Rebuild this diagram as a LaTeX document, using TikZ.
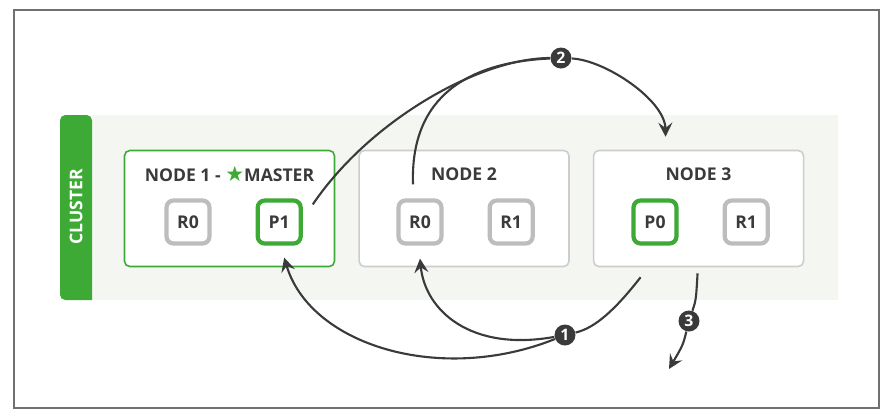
\documentclass[tikz,border=0pt]{standalone}
\usepackage{fontspec}
\setmainfont{Open Sans}
\newfontfamily\symfont{DejaVu Sans}
\usetikzlibrary{positioning,arrows.meta,calc}
\definecolor{clusterGreen}{HTML}{3DAA35}
\definecolor{bgGray}{HTML}{F4F6F2}
\definecolor{boxGray}{HTML}{CDCDCD}
\definecolor{shardGray}{HTML}{BDBDBD}
\definecolor{inkDark}{HTML}{3A3A3A}
\definecolor{frameGray}{HTML}{707070}
\tikzset{
    esnode/.style={draw=boxGray,fill=white,rounded corners=3pt,line width=0.9pt,
        minimum width=4.2cm,minimum height=2.32cm},
    masternode/.style={esnode,draw=clusterGreen},
    shard/.style={draw=shardGray,fill=white,rounded corners=4pt,line width=2.4pt,
        minimum size=0.86cm,inner sep=0pt,text=inkDark,
        font=\bfseries\fontsize{10}{12}\selectfont},
    primary/.style={shard,draw=clusterGreen},
    nodetitle/.style={inner sep=0pt,text=inkDark,font=\bfseries\fontsize{10}{12}\selectfont},
    badge/.style={circle,fill=inkDark,text=white,minimum size=0.42cm,inner sep=0pt,
        font=\bfseries\fontsize{9}{10}\selectfont},
    flow/.style={draw=inkDark,line width=1.2pt},
    flowarrow/.style={flow,-{Stealth[length=8pt,width=8pt,inset=3pt]}}
}

\begin{document}
\begin{tikzpicture}[x=0.02cm,y=-0.02cm]
    \useasboundingbox[fill=white] (0,0) rectangle (894,417);
    \draw[frameGray,line width=0.6pt] (14,10) rectangle (879,408);
    % cluster band
    \fill[bgGray] (92,115) rectangle (838,300);
    \fill[clusterGreen,rounded corners=3pt] (60,115) -- (92,115) [sharp corners] -- (92,300) [rounded corners=3pt] -- (60,300) -- cycle;
    \node[rotate=90,text=white,inner sep=0pt,font=\bfseries\fontsize{10}{12}\selectfont] (clusterlbl) at (76,207) {CLUSTER};
    % nodes
    \node[masternode] (n1) at (229.5,208.5) {};
    \node[esnode] (n2) [right=0.46cm of n1] {};
    \node[esnode] (n3) [right=0.46cm of n2] {};
    \node[nodetitle] (t1) at (229.5,174) {NODE 1 - {\symfont\fontsize{12}{12}\selectfont\color{clusterGreen}★}MASTER};
    \node[nodetitle] (t2) at (464,174) {NODE 2};
    \node[nodetitle] (t3) at (698.5,174) {NODE 3};
    % shards
    \node[shard] (n1r0) at (188,222) {R0};
    \node[primary] (n1p1) [right=0.88cm of n1r0] {P1};
    \node[shard] (n2r0) at (420,222) {R0};
    \node[shard] (n2r1) [right=0.88cm of n2r0] {R1};
    \node[primary] (n3p0) at (655,222) {P0};
    \node[shard] (n3r1) [right=0.88cm of n3p0] {R1};
    % steps
    \node[badge] (b1) at (565,335) {1};
    \node[badge] (b2) at (561,58) {2};
    \node[badge] (b3) at (689,321) {3};
    \coordinate (p1out) at ($(n1p1.north east)+(10,6)$);
    \coordinate (p1in) at ($(n1p1.south)+(5,12)$);
    \coordinate (r0up) at ($(n2r0.north)+(-7,-14)$);
    \coordinate (r0in) at ($(n2r0.south)+(0,13)$);
    \coordinate (n3in) at ($(n3.north)+(-33,-13)$);
    \coordinate (n3outa) at ($(n3.south)+(-58,10)$);
    \coordinate (n3outb) at ($(n3.south)+(-1,6)$);
    \coordinate (n3tip) at (669,369);
    \draw[flow] (p1out) .. controls (370,120) and (480,58) .. (b2);
    \draw[flow] (r0up) .. controls (410,95) and (470,62) .. (b2);
    \draw[flowarrow] (b2) .. controls (605,60) and (665,100) .. (n3in);
    \draw[flow] (n3outa) .. controls (615,310) and (595,328) .. (b1);
    \draw[flowarrow] (b1) .. controls (440,385) and (310,345) .. (p1in);
    \draw[flowarrow] (b1) .. controls (470,352) and (425,310) .. (r0in);
    \draw[flow] (n3outb) .. controls (696,300) .. (b3);
    \draw[flowarrow] (b3) .. controls (683,345) .. (n3tip);
\end{tikzpicture}
\end{document}
